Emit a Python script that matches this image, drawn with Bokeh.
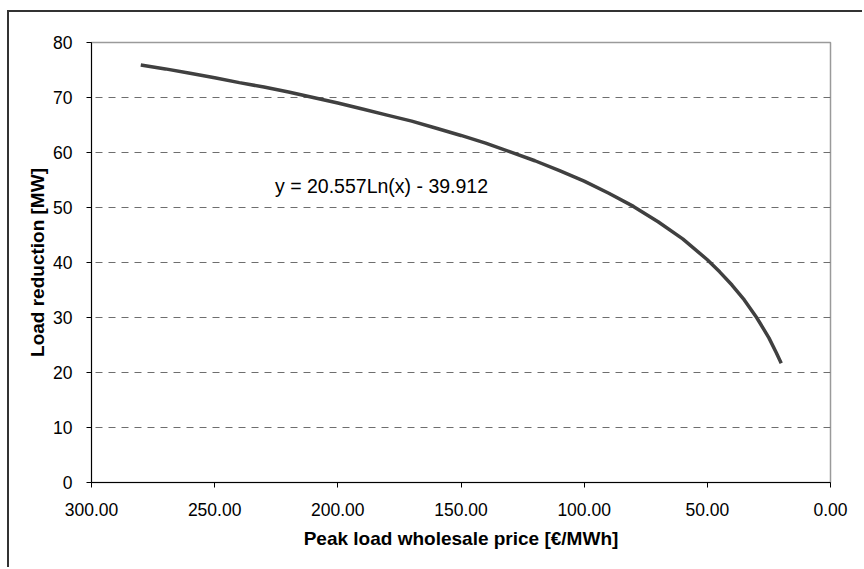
from bokeh.plotting import figure
from bokeh.models import Range1d, FixedTicker, PrintfTickFormatter, Label, ColumnDataSource
from bokeh.embed import file_html
from bokeh.resources import INLINE

# Data
price = [280, 270, 260, 250, 240, 230, 220, 210, 200, 190, 180, 170, 160, 150, 140,
         130, 120, 110, 100, 90, 80, 70, 60, 50, 45, 40, 35, 30, 25, 22, 20]
reduction = [75.9, 75.2, 74.4, 73.6, 72.7, 71.9, 71.0, 70.0, 69.0, 67.9, 66.8, 65.7,
             64.4, 63.1, 61.7, 60.1, 58.5, 56.7, 54.8, 52.6, 50.2, 47.4, 44.3, 40.5,
             38.3, 35.9, 33.2, 30.0, 26.3, 23.6, 21.7]
x_ticks = [0, 50, 100, 150, 200, 250, 300]
y_ticks = [0, 10, 20, 30, 40, 50, 60, 70, 80]
grid_ticks = [10, 20, 30, 40, 50, 60, 70]
equation = "y = 20.557Ln(x) - 39.912"
x_title = "Peak load wholesale price [€/MWh]"
y_title = "Load reduction [MW]"

FONT = "Liberation Sans"

p = figure(width=855, height=557, output_backend="svg", toolbar_location=None,
           x_range=Range1d(300, 0), y_range=Range1d(0, 80),
           min_border_left=82, min_border_right=34, min_border_top=30, min_border_bottom=87)
p.styles = {"border-left": "2px solid #333333", "border-top": "2px solid #333333",
            "margin-left": "7px", "margin-top": "10px"}

p.background_fill_color = "white"
p.border_fill_color = "white"
p.outline_line_color = "#9a9a9a"
p.outline_line_width = 1.5

src = ColumnDataSource(dict(x=price, y=reduction))
p.line("x", "y", source=src, line_color="#404040", line_width=3.5)

p.xgrid.visible = False
p.ygrid.ticker = FixedTicker(ticks=grid_ticks)
p.ygrid.grid_line_color = "#6e6e6e"
p.ygrid.grid_line_dash = "7 6"
p.ygrid.grid_line_width = 1

for ax in (p.xaxis[0], p.yaxis[0]):
    ax.axis_line_color = "#000000"
    ax.axis_line_width = 1
    ax.major_tick_line_color = "#000000"
    ax.major_tick_out = 5
    ax.major_tick_in = 0
    ax.minor_tick_line_color = None
    ax.major_label_text_font = FONT
    ax.major_label_text_font_size = "17.5px"
    ax.major_label_text_color = "#000000"
    ax.axis_label_text_font = FONT
    ax.axis_label_text_font_size = "19px"
    ax.axis_label_text_font_style = "bold"
    ax.axis_label_text_color = "#000000"

p.xaxis.ticker = FixedTicker(ticks=x_ticks)
p.xaxis.formatter = PrintfTickFormatter(format="%.2f")
p.xaxis.axis_label = x_title
p.xaxis.major_label_standoff = 15
p.xaxis.axis_label_standoff = 9

p.yaxis.ticker = FixedTicker(ticks=y_ticks)
p.yaxis.axis_label = y_title
p.yaxis.major_label_standoff = 14
p.yaxis.axis_label_standoff = 2

p.add_layout(Label(x=225.5, y=53.9, text=equation, text_font=FONT, text_font_size="19.5px",
                   text_color="#000000", text_align="left", text_baseline="middle"))

open("out.html", "w").write(file_html(p, INLINE))
